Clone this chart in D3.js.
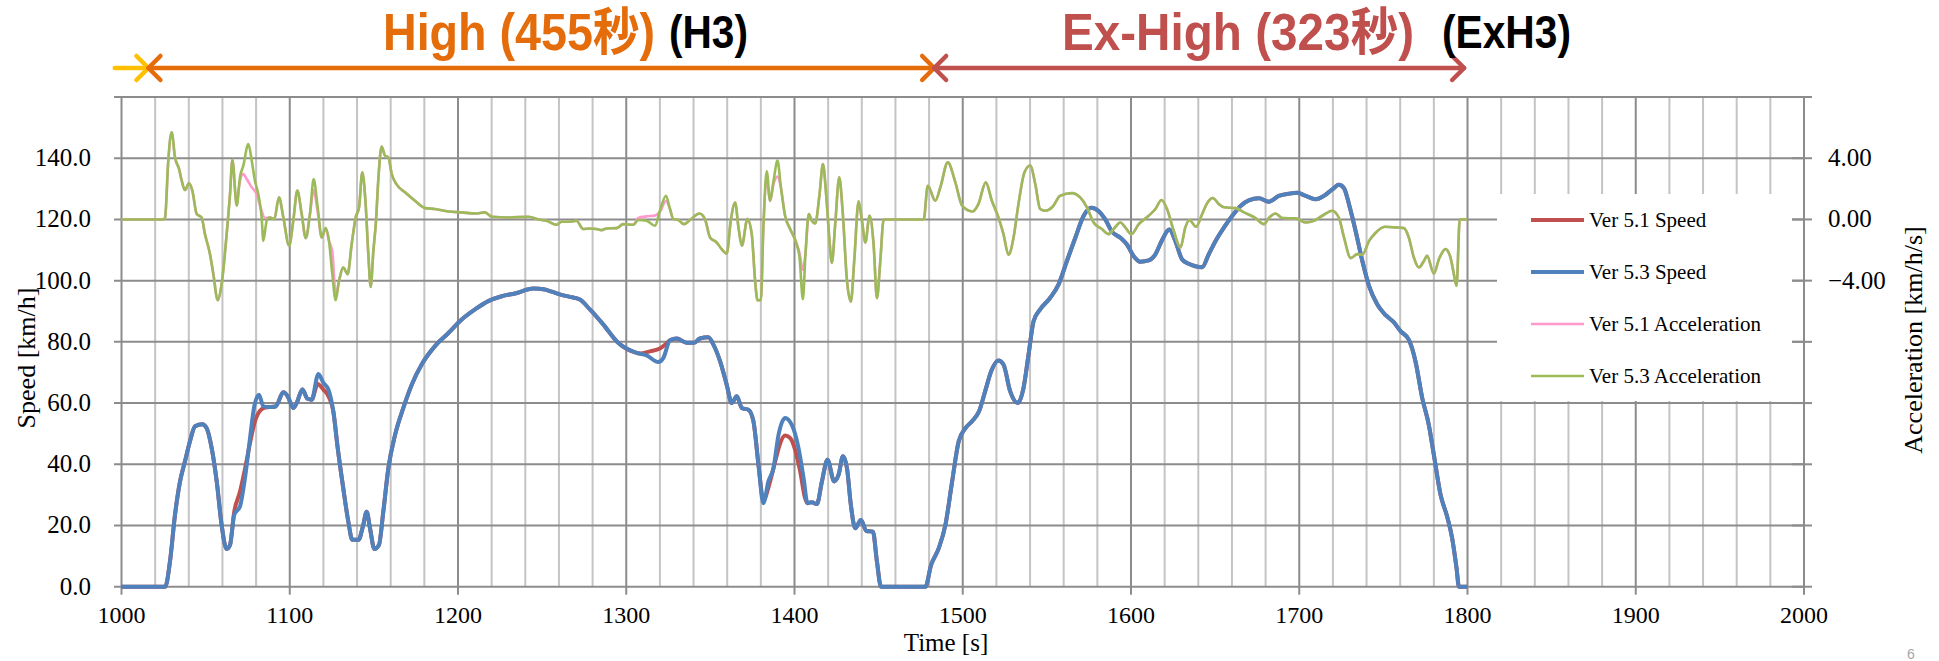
<!DOCTYPE html>
<html>
<head>
<meta charset="utf-8">
<script src="https://cdn.jsdelivr.net/npm/d3@7"></script>
<style>
  body { margin: 0; background: #fff; }
  svg { display: block; }
</style>
</head>
<body>
<div id="chart"></div>
<script>
// ---- data: [time s, value] ----
const ver53Speed = [
  [1000,0],[1026,0],[1028.8,8.2],[1031.8,23.5],[1034.8,34.4],[1037.7,40.9],[1040.7,47.5],[1043.7,52.4],
  [1048,53.1],[1050.6,51.8],[1053.6,45.3],[1056.6,34.4],[1059.5,20.2],[1062.5,12.3],[1064.5,13.6],[1067,23.5],
  [1070.4,26.2],[1073.4,35.5],[1076.4,48.6],[1078.9,58.9],[1081.7,62.7],[1084.3,58.9],[1087.3,58.7],[1091.6,58.9],
  [1096.2,63.5],[1098.8,62.2],[1102.1,58.4],[1104.1,60],[1107.5,64.4],[1110.6,61.4],[1113,61.1],[1117,69.5],
  [1120,66.6],[1123,64.4],[1125.9,57.3],[1128.5,45.3],[1131.8,32.2],[1134.8,21.3],[1137.2,15.3],[1140.8,15.3],
  [1143.7,20.2],[1145.7,24.5],[1147.7,19.1],[1150.3,12.3],[1153,13.6],[1155.6,24.5],[1158.6,38.7],[1162.6,49.6],
  [1167.5,58.4],[1172.5,66],[1178.4,72.6],[1186.3,78.6],[1194.3,82.9],[1202.2,87.3],[1210.1,90.6],[1218,93.3],
  [1226,94.9],[1233.9,95.8],[1244.8,97.4],[1251.7,97.1],[1254.6,96.6],[1260.5,95.5],[1266.5,94.7],[1272.4,93.8],
  [1278.4,90.6],[1286.3,85.7],[1295.2,79.7],[1306.2,76.4],[1312.1,75.6],[1319,73.4],[1322,74.7],[1326,80.5],
  [1330,81.1],[1335.9,79.7],[1340.3,79.7],[1343.8,81.1],[1348.8,81.5],[1351.8,79.1],[1355.8,73.6],[1359.7,66],
  [1362.7,60],[1365.7,62.2],[1368.7,58.4],[1372.6,57.8],[1375.6,54],[1378.6,39.8],[1381.5,27.3],[1384.5,34.4],
  [1387.5,38.7],[1390.5,49.6],[1394.4,55.1],[1398.4,52.9],[1402.4,45.3],[1405.4,35.5],[1407.7,27.3],[1410.3,27.6],
  [1413.3,27],[1416.3,34.4],[1419.6,41.5],[1423.6,34.4],[1426.2,36.6],[1428.8,42.6],[1431.2,38.7],[1433.5,26.7],
  [1436.1,19.1],[1439.5,21.8],[1442.7,18.2],[1446.6,18],[1449,8.2],[1451.4,0],[1477.8,0],[1481.2,7.1],
  [1485.7,12.5],[1489.7,20.2],[1493.7,34.4],[1497.6,47.5],[1501.6,51.8],[1505.4,54],[1509.7,57.3],[1513.3,63.8],
  [1516.9,70.4],[1521.2,73.9],[1524.2,72.6],[1528.2,63.8],[1532.7,60],[1536.1,64.9],[1539.1,75.8],[1542.1,86.7],
  [1546,90.6],[1552,94.4],[1556.9,98.7],[1561.9,106.4],[1566.9,114],[1571.8,121.1],[1576.4,123.8],[1580.8,122.7],
  [1584.7,120],[1588.7,116],[1593.7,114],[1597.6,111.8],[1601.6,108],[1605.6,106.2],[1610.5,106.6],[1614.5,108.6],
  [1618.5,113.3],[1622.8,116.7],[1626.4,112.9],[1630.4,106.9],[1634.3,105.5],[1638.3,104.7],[1642.3,104.4],[1646.2,108.6],
  [1650.2,112.9],[1655.2,117.3],[1660.1,121.1],[1665.1,124.4],[1670,126.2],[1676,126.9],[1681.9,125.8],[1687.9,127.7],
  [1693.8,128.4],[1698.8,128.7],[1703.8,127.7],[1709.7,126.6],[1714.7,127.7],[1719.6,129.8],[1723.6,131.3],[1726.6,130.2],
  [1729.6,124.9],[1733.5,116.2],[1737.5,106.4],[1741.5,98.2],[1746.4,92.2],[1751.4,88.7],[1756,86.5],[1760.2,83.5],
  [1765.1,80.7],[1769.1,73.6],[1773.1,61.6],[1777,52.9],[1780,43.1],[1784,30],[1787.9,22.9],[1790.9,15.8],
  [1793.5,6],[1794.9,0],[1799.8,0]
];

const ver51Speed = [
  [1000,0],[1026,0],[1028.8,8.2],[1031.8,23.5],[1034.8,34.4],[1037.7,40.9],[1040.7,47.5],[1043.7,52.4],
  [1048,53.1],[1050.6,51.8],[1053.6,45.3],[1056.6,34.4],[1059.5,20.2],[1062.5,12.3],[1064.5,13.6],[1067,24.5],
  [1070.4,31],[1073.4,38.5],[1076.4,47],[1079.3,54],[1082.3,57.5],[1085.3,58.5],[1091.6,58.9],
  [1096.2,63.5],[1098.8,62.2],[1102.1,58.4],[1104.1,60],[1107.5,64.4],[1110.6,61.4],[1113,61.1],[1116.6,66.2],
  [1120,64.4],[1123,62.2],[1125.9,57.3],[1128.5,45.3],[1131.8,32.2],[1134.8,21.3],[1137.2,15.3],[1140.8,15.3],
  [1143.7,20.2],[1145.7,24.5],[1147.7,19.1],[1150.3,12.3],[1153,13.6],[1155.6,24.5],[1158.6,38.7],[1162.6,49.6],
  [1167.5,58.4],[1172.5,66],[1178.4,72.6],[1186.3,78.6],[1194.3,82.9],[1202.2,87.3],[1210.1,90.6],[1218,93.3],
  [1226,94.9],[1233.9,95.8],[1244.8,97.4],[1251.7,97.1],[1254.6,96.6],[1260.5,95.5],[1266.5,94.7],[1272.4,93.8],
  [1278.4,90.6],[1286.3,85.7],[1295.2,79.7],[1306.2,76.4],[1308.1,76.2],[1314.1,76.9],[1320,77.8],[1323.6,79.3],[1326,80.5],
  [1330,81.1],[1335.9,79.7],[1340.3,79.7],[1343.8,81.1],[1348.8,81.5],[1351.8,79.1],[1355.8,73.6],[1359.7,66],
  [1362.7,60],[1365.7,62.2],[1368.7,58.4],[1372.6,57.8],[1375.6,54],[1378.6,39.8],[1381.5,28.4],[1385.5,34.4],
  [1388.5,40.9],[1391.5,46.9],[1394.4,49.4],[1397.4,48.6],[1400.4,44.7],[1403.4,37.6],[1406.3,28.9],[1407.7,27.3],[1410.3,27.6],
  [1413.3,27],[1416.3,34.4],[1419.6,41.5],[1423.6,34.4],[1426.2,36.6],[1428.8,42.6],[1431.2,38.7],[1433.5,26.7],
  [1436.1,19.1],[1439.5,21.8],[1442.7,18.2],[1446.6,18],[1449,8.2],[1451.4,0],[1477.8,0],[1481.2,7.1],
  [1485.7,12.5],[1489.7,20.2],[1493.7,34.4],[1497.6,47.5],[1501.6,51.8],[1505.4,54],[1509.7,57.3],[1513.3,63.8],
  [1516.9,70.4],[1521.2,73.9],[1524.2,72.6],[1528.2,63.8],[1532.7,60],[1536.1,64.9],[1539.1,75.8],[1542.1,86.7],
  [1546,90.6],[1552,94.4],[1556.9,98.7],[1561.9,106.4],[1566.9,114],[1571.8,121.1],[1576.4,123.8],[1580.8,122.7],
  [1584.7,120],[1588.7,116],[1593.7,114],[1597.6,111.8],[1601.6,108],[1605.6,106.2],[1610.5,106.6],[1614.5,108.6],
  [1618.5,113.3],[1622.8,116.7],[1626.4,112.9],[1630.4,106.9],[1634.3,105.5],[1638.3,104.7],[1642.3,104.4],[1646.2,108.6],
  [1650.2,112.9],[1655.2,117.3],[1660.1,121.1],[1665.1,124.4],[1670,126.2],[1676,126.9],[1681.9,125.8],[1687.9,127.7],
  [1693.8,128.4],[1698.8,128.7],[1703.8,127.7],[1709.7,126.6],[1714.7,127.7],[1719.6,129.8],[1723.6,131.3],[1726.6,130.2],
  [1729.6,124.9],[1733.5,116.2],[1737.5,106.4],[1741.5,98.2],[1746.4,92.2],[1751.4,88.7],[1756,86.5],[1760.2,83.5],
  [1765.1,80.7],[1769.1,73.6],[1773.1,61.6],[1777,52.9],[1780,43.1],[1784,30],[1787.9,22.9],[1790.9,15.8],
  [1793.5,6],[1794.9,0],[1799.8,0]
];

const ver53Accel = [
  [1000,0],[1024.9,0],[1025.9,0.13],[1027.8,3.84],[1029.8,5.7],[1031.8,4.06],[1034.2,3.3],[1035.8,2.53],
  [1037.7,1.92],[1040.1,2.36],[1042.1,1.88],[1044.7,0.35],[1047.6,0.13],[1049.6,-0.96],[1052.6,-2.27],[1054.6,-3.58],
  [1057.2,-5.28],[1059.5,-4.24],[1062.5,-0.96],[1064.5,1.66],[1065.9,3.89],[1068.5,0.9],[1070.4,2.75],[1072.4,3.52],
  [1075.4,4.93],[1077.4,3.84],[1079.3,2.53],[1081.3,1.66],[1083.3,0.13],[1084.3,-1.4],[1086.3,-0.09],[1088.2,0.13],
  [1090.8,0.02],[1093.6,1.44],[1096.2,0.13],[1099.6,-1.72],[1102.1,-0.09],[1104.5,1.88],[1107.1,0.35],[1109.5,-1.22],
  [1112,0.35],[1114.2,2.64],[1116.6,0.79],[1119,-1.18],[1121.3,-0.57],[1123.3,-1.4],[1125.3,-3.58],[1127.3,-5.28],
  [1129.3,-4.02],[1131.8,-3.14],[1134.4,-3.58],[1136.8,-1.62],[1139.2,0.13],[1141.2,0.79],[1143.1,3.08],[1145.1,1.0],
  [1146.7,-2.27],[1148.1,-4.41],[1149.7,-2.05],[1151.2,-0.2],[1152.6,2.53],[1154.6,4.76],[1156.6,4.17],[1158.6,4.06],
  [1160.6,2.97],[1163.5,2.29],[1168.5,1.77],[1174.4,1.22],[1180.4,0.74],[1186.3,0.68],[1194.3,0.52],[1202.2,0.46],
  [1210.1,0.39],[1216.1,0.46],[1220.1,0.17],[1230,0.13],[1241.9,0.17],[1247.8,0],[1252.6,-0.09],[1258.5,-0.35],
  [1261.5,-0.15],[1266.5,-0.15],[1270.4,-0.09],[1274.4,-0.63],[1278.4,-0.59],[1282.3,-0.63],[1285.3,-0.7],[1288.3,-0.59],
  [1294.2,-0.57],[1298.2,-0.31],[1304.2,-0.35],[1307.1,-0.04],[1312.1,-0.09],[1317.1,-0.41],[1320,0.57],[1323.6,1.55],
  [1326,0.68],[1328,0.02],[1331,-0.04],[1334.3,-0.31],[1337.9,-0.04],[1343.5,0.39],[1346.8,0.02],[1349.8,-1.18],
  [1353.8,-1.51],[1356.7,-1.94],[1359.7,-2.23],[1362.1,-0.09],[1364.7,1.11],[1366.7,-0.52],[1368.7,-1.72],[1372,0.02],
  [1374.6,-0.96],[1376.6,-4.02],[1378,-5.28],[1380,-5.28],[1381.5,-0.52],[1383.5,3.14],[1385.5,1.22],[1387.5,2.49],
  [1389.9,3.84],[1391.9,2.1],[1394.4,0.24],[1397.4,-0.63],[1401,-1.51],[1403,-2.49],[1405,-5.22],[1406.5,-2.27],
  [1408.5,0.35],[1410.3,-0.09],[1412.3,-0.26],[1414.9,1.66],[1416.9,3.62],[1418.8,1.66],[1420.8,-1.4],[1422.2,-2.84],
  [1424.2,-0.31],[1426.6,2.75],[1428.6,0.55],[1431.2,-4.02],[1433.5,-5.37],[1435.5,-2.71],[1438.1,1.18],[1440.1,-0.09],
  [1442.1,-1.51],[1444.6,0.24],[1447,-1.62],[1449,-5.15],[1451,-2.71],[1453,0],[1476.8,0],[1479.2,2.2],
  [1483.7,1.22],[1486.7,2.1],[1491.1,3.73],[1495.6,2.42],[1499.6,0.9],[1505.8,0.52],[1509.3,1.0],[1513.7,2.42],
  [1517.3,1.22],[1521.2,0.13],[1524.2,-0.96],[1527.2,-2.31],[1530.2,-1.18],[1533.1,1.0],[1536.7,3.08],[1540.1,3.52],
  [1543.1,2.31],[1546,0.68],[1549,0.57],[1553.4,0.83],[1557.9,1.55],[1564.9,1.72],[1569.8,1.44],[1573.8,0.79],
  [1577.8,-0.2],[1582.7,-0.63],[1586.7,-0.96],[1589.7,-0.63],[1593.7,-0.2],[1596.6,-0.52],[1600.2,-0.96],[1604.6,-0.31],
  [1610.5,0.24],[1614.5,0.68],[1618.1,1.27],[1621.4,0.68],[1625.4,-0.74],[1629.4,-1.83],[1632.3,-0.52],[1634.7,-0.04],
  [1638.7,-0.48],[1642.3,0.35],[1645.2,1.05],[1648.6,1.4],[1652.2,1.0],[1655.2,0.79],[1662.1,0.74],[1667.1,0.46],
  [1674,0.09],[1679,-0.31],[1681.9,0.09],[1685.9,0.39],[1689.9,0.09],[1697.8,0.07],[1703.8,-0.2],[1708.7,-0.09],
  [1713.7,0.24],[1719.6,0.57],[1723.6,0.09],[1726.6,-1.18],[1730.6,-2.53],[1734.5,-2.27],[1737.5,-2.31],[1741.5,-1.4],
  [1745,-0.92],[1751,-0.48],[1757,-0.52],[1762.2,-0.57],[1765.1,-1.18],[1768.1,-2.49],[1771.1,-3.14],[1774.1,-2.71],
  [1776,-2.38],[1780,-3.54],[1783,-2.6],[1786.9,-1.94],[1789.9,-2.49],[1791.9,-3.58],[1793.5,-4.34],[1795.4,0],
  [1799.8,0]
];

const ver51Accel = [
  [1000,0],[1024.9,0],[1025.9,0.13],[1027.8,3.84],[1029.8,5.7],[1031.8,4.06],[1034.2,3.3],[1035.8,2.53],
  [1037.7,1.92],[1040.1,2.36],[1042.1,1.88],[1044.7,0.35],[1047.6,0.13],[1049.6,-0.96],[1052.6,-2.27],[1054.6,-3.58],
  [1057.2,-5.28],[1059.5,-4.24],[1062.5,-0.96],[1064.5,1.66],[1065.9,3.89],[1068.5,0.9],[1069.5,1.88],[1072.4,2.97],
  [1074.4,2.64],[1077.4,2.1],[1080.3,1.66],[1082.9,0.68],[1085.3,0.09],[1088.2,0.13],
  [1090.8,0.02],[1093.6,1.44],[1096.2,0.13],[1099.6,-1.72],[1102.1,-0.09],[1104.5,1.88],[1107.1,0.35],[1109.5,-1.22],
  [1112,0.35],[1114.2,1.9],[1116.6,0.5],[1119,-1.18],[1121.3,-0.57],[1123.3,-1.4],[1125.3,-2.1],[1127.3,-4.9],
  [1129.3,-4.02],[1131.8,-3.14],[1134.4,-3.58],[1136.8,-1.62],[1139.2,0.13],[1141.2,0.79],[1143.1,3.08],[1145.1,1.0],
  [1146.7,-2.27],[1148.1,-4.41],[1149.7,-2.05],[1151.2,-0.2],[1152.6,2.53],[1154.6,4.76],[1156.6,4.17],[1158.6,4.06],
  [1160.6,2.97],[1163.5,2.29],[1168.5,1.77],[1174.4,1.22],[1180.4,0.74],[1186.3,0.68],[1194.3,0.52],[1202.2,0.46],
  [1210.1,0.39],[1216.1,0.46],[1220.1,0.17],[1230,0.13],[1241.9,0.17],[1247.8,0],[1252.6,-0.09],[1258.5,-0.35],
  [1261.5,-0.15],[1266.5,-0.15],[1270.4,-0.09],[1274.4,-0.63],[1278.4,-0.59],[1282.3,-0.63],[1285.3,-0.7],[1288.3,-0.59],
  [1294.2,-0.57],[1298.2,-0.31],[1304.2,-0.35],[1307.1,0.1],[1312.1,0.2],[1317.1,0.25],[1320,0.5],[1323.6,1.2],
  [1326,0.68],[1328,0.02],[1331,-0.04],[1334.3,-0.31],[1337.9,-0.04],[1343.5,0.39],[1346.8,0.02],[1349.8,-1.18],
  [1353.8,-1.51],[1356.7,-1.94],[1359.7,-2.23],[1362.1,-0.09],[1364.7,1.11],[1366.7,-0.52],[1368.7,-1.72],[1372,0.02],
  [1374.6,-0.96],[1376.6,-4.02],[1378,-5.28],[1380,-5.28],[1381.5,-0.52],[1383.5,2.5],[1385.5,1.2],[1387.5,2.3],
  [1389.9,2.8],[1391.9,2.1],[1394.4,0.24],[1397.4,-0.63],[1401,-1.51],[1403,-2.2],[1405,-3.3],[1406.5,-2.27],
  [1408.5,0.35],[1410.3,-0.09],[1412.3,-0.26],[1414.9,1.66],[1416.9,3.62],[1418.8,1.66],[1420.8,-1.4],[1422.2,-2.84],
  [1424.2,-0.31],[1426.6,2.75],[1428.6,0.55],[1431.2,-4.02],[1433.5,-5.37],[1435.5,-2.71],[1438.1,1.18],[1440.1,-0.09],
  [1442.1,-1.51],[1444.6,0.24],[1447,-1.62],[1449,-5.15],[1451,-2.71],[1453,0],[1476.8,0],[1479.2,2.2],
  [1483.7,1.22],[1486.7,2.1],[1491.1,3.73],[1495.6,2.42],[1499.6,0.9],[1505.8,0.52],[1509.3,1.0],[1513.7,2.42],
  [1517.3,1.22],[1521.2,0.13],[1524.2,-0.96],[1527.2,-2.31],[1530.2,-1.18],[1533.1,1.0],[1536.7,3.08],[1540.1,3.52],
  [1543.1,2.31],[1546,0.68],[1549,0.57],[1553.4,0.83],[1557.9,1.55],[1564.9,1.72],[1569.8,1.44],[1573.8,0.79],
  [1577.8,-0.2],[1582.7,-0.63],[1586.7,-0.96],[1589.7,-0.63],[1593.7,-0.2],[1596.6,-0.52],[1600.2,-0.96],[1604.6,-0.31],
  [1610.5,0.24],[1614.5,0.68],[1618.1,1.27],[1621.4,0.68],[1625.4,-0.74],[1629.4,-1.83],[1632.3,-0.52],[1634.7,-0.04],
  [1638.7,-0.48],[1642.3,0.35],[1645.2,1.05],[1648.6,1.4],[1652.2,1.0],[1655.2,0.79],[1662.1,0.74],[1667.1,0.46],
  [1674,0.09],[1679,-0.31],[1681.9,0.09],[1685.9,0.39],[1689.9,0.09],[1697.8,0.07],[1703.8,-0.2],[1708.7,-0.09],
  [1713.7,0.24],[1719.6,0.57],[1723.6,0.09],[1726.6,-1.18],[1730.6,-2.53],[1734.5,-2.27],[1737.5,-2.31],[1741.5,-1.4],
  [1745,-0.92],[1751,-0.48],[1757,-0.52],[1762.2,-0.57],[1765.1,-1.18],[1768.1,-2.49],[1771.1,-3.14],[1774.1,-2.71],
  [1776,-2.38],[1780,-3.54],[1783,-2.6],[1786.9,-1.94],[1789.9,-2.49],[1791.9,-3.58],[1793.5,-4.34],[1795.4,0],
  [1799.8,0]
];

const seriesNames = ["Ver 5.1 Speed", "Ver 5.3 Speed", "Ver 5.1 Acceleration", "Ver 5.3 Acceleration"];
const speedGrid = [0, 20, 40, 60, 80, 100, 120, 140, 160];
const speedTickLabels = [0, 20, 40, 60, 80, 100, 120, 140];
const accelTickLabels = [4, 0, -4];
const timeTicks = [1000, 1100, 1200, 1300, 1400, 1500, 1600, 1700, 1800, 1900, 2000];
// phase arrows (seconds): start, High start, Ex-High start, end
const phaseBreaks = [996, 1016, 1483, 1798];

const W = 1939, H = 661;
const plotL = 121.5, plotR = 1804, plotT = 97, plotB = 586.7;

const x = d3.scaleLinear().domain([1000, 2000]).range([plotL, plotR]);
const y = d3.scaleLinear().domain([0, 160]).range([plotB, plotT]);
const yA = d3.scaleLinear().domain([-24, 8]).range([plotB, plotT]);

const svg = d3.select("#chart").append("svg")
    .attr("width", W).attr("height", H)
    .style("background", "#fff");

const serif = "'Liberation Serif', 'Times New Roman', serif";

// gridlines
const minorT = d3.range(1000, 2001, 20);
svg.append("g").selectAll("line")
    .data(minorT)
    .enter().append("line")
    .attr("x1", d => x(d)).attr("x2", d => x(d))
    .attr("y1", plotT).attr("y2", plotB)
    .attr("stroke", d => d % 100 === 0 ? "#8c8c8c" : "#c4c4c4")
    .attr("stroke-width", 2);

svg.append("g").selectAll("line")
    .data(speedGrid)
    .enter().append("line")
    .attr("x1", plotL - 7.5).attr("x2", plotR)
    .attr("y1", d => y(d)).attr("y2", d => y(d))
    .attr("stroke", "#8c8c8c")
    .attr("stroke-width", 2);

// legend box sits over the grid
const legX = 1497, legY = 194, legW = 295, legH = 207;
svg.append("rect")
    .attr("x", legX).attr("y", legY)
    .attr("width", legW).attr("height", legH)
    .attr("fill", "#fff");

// right axis ticks (cross the axis)
svg.append("g").selectAll("line")
    .data(speedGrid)
    .enter().append("line")
    .attr("x1", plotR - 12).attr("x2", plotR + 8)
    .attr("y1", d => y(d)).attr("y2", d => y(d))
    .attr("stroke", "#8c8c8c")
    .attr("stroke-width", 2);

// x major ticks below the axis
svg.append("g").selectAll("line")
    .data(timeTicks)
    .enter().append("line")
    .attr("x1", d => x(d)).attr("x2", d => x(d))
    .attr("y1", plotB).attr("y2", plotB + 8)
    .attr("stroke", "#8c8c8c")
    .attr("stroke-width", 2);

// tick labels
svg.append("g").selectAll("text")
    .data(speedTickLabels)
    .enter().append("text")
    .attr("x", 91).attr("y", d => y(d) + 8)
    .attr("text-anchor", "end")
    .attr("font-family", serif).attr("font-size", 25)
    .text(d => d3.format(".1f")(d));

svg.append("g").selectAll("text")
    .data(timeTicks)
    .enter().append("text")
    .attr("x", d => x(d)).attr("y", 623)
    .attr("text-anchor", "middle")
    .attr("font-family", serif).attr("font-size", 24)
    .text(d => d);

svg.append("g").selectAll("text")
    .data(accelTickLabels)
    .enter().append("text")
    .attr("x", 1828).attr("y", d => yA(d) + 8)
    .attr("font-family", serif).attr("font-size", 25)
    .text(d => d3.format(".2f")(d));

// axis titles
svg.append("text")
    .attr("x", 946).attr("y", 651)
    .attr("text-anchor", "middle")
    .attr("font-family", serif).attr("font-size", 25)
    .text("Time [s]");

svg.append("text")
    .attr("transform", "translate(35,358) rotate(-90)")
    .attr("text-anchor", "middle")
    .attr("font-family", serif).attr("font-size", 26)
    .text("Speed [km/h]");

svg.append("text")
    .attr("transform", "translate(1922,340) rotate(-90)")
    .attr("text-anchor", "middle")
    .attr("font-family", serif).attr("font-size", 26)
    .text("Acceleration [km/h/s]");

// series
const speedLine = d3.line()
    .x(d => x(d[0])).y(d => y(d[1]))
    .curve(d3.curveMonotoneX);
const accelLine = d3.line()
    .x(d => x(d[0])).y(d => yA(d[1]))
    .curve(d3.curveMonotoneX);

const colours = ["#C0504D", "#4F81BD", "#FF99CC", "#9BBB59"];
const widths = [4, 4, 2.6, 2.6];

svg.append("path").datum(ver51Speed)
    .attr("d", speedLine).attr("fill", "none")
    .attr("stroke", colours[0]).attr("stroke-width", widths[0])
    .attr("stroke-linejoin", "round");
svg.append("path").datum(ver53Speed)
    .attr("d", speedLine).attr("fill", "none")
    .attr("stroke", colours[1]).attr("stroke-width", widths[1])
    .attr("stroke-linejoin", "round");
svg.append("path").datum(ver51Accel)
    .attr("d", accelLine).attr("fill", "none")
    .attr("stroke", colours[2]).attr("stroke-width", widths[2])
    .attr("stroke-linejoin", "round");
svg.append("path").datum(ver53Accel)
    .attr("d", accelLine).attr("fill", "none")
    .attr("stroke", colours[3]).attr("stroke-width", widths[3])
    .attr("stroke-linejoin", "round");

// legend entries
const legend = svg.append("g").attr("class", "legend");
seriesNames.forEach((name, i) => {
    const ly = 220 + i * 52;
    legend.append("line")
        .attr("x1", 1531).attr("x2", 1584)
        .attr("y1", ly).attr("y2", ly)
        .attr("stroke", colours[i])
        .attr("stroke-width", widths[i]);
    legend.append("text")
        .attr("x", 1589).attr("y", ly + 7)
        .attr("font-family", serif).attr("font-size", 21)
        .text(name);
});

// phase arrows on top
const arrowY = 68;
const arrows = [
    { from: phaseBreaks[0], to: phaseBreaks[1], colour: "#FFC000", heads: [false, true] },
    { from: phaseBreaks[1], to: phaseBreaks[2], colour: "#E46C0A", heads: [true, true] },
    { from: phaseBreaks[2], to: phaseBreaks[3], colour: "#C0504D", heads: [true, true] }
];
arrows.forEach(a => {
    const g = svg.append("g")
        .attr("stroke", a.colour).attr("stroke-width", 4.5)
        .attr("fill", "none").attr("stroke-linejoin", "round")
        .attr("stroke-linecap", "round");
    g.append("line")
        .attr("x1", x(a.from)).attr("x2", x(a.to))
        .attr("y1", arrowY).attr("y2", arrowY);
    if (a.heads[0]) {
        const hx = x(a.from);
        g.append("path").attr("d", `M${hx + 12},${arrowY - 12}L${hx},${arrowY}L${hx + 12},${arrowY + 12}`);
    }
    if (a.heads[1]) {
        const hx = x(a.to);
        g.append("path").attr("d", `M${hx - 12},${arrowY - 12}L${hx},${arrowY}L${hx - 12},${arrowY + 12}`);
    }
});

// phase titles: narrow-looking bold text, stretched vertically
const sans = "'Liberation Sans', Arial, 'Noto Sans CJK JP', sans-serif";
const titles = [
    { t: "High (455秒)", x: 383, y: 50, size: 46, sy: 1.12, len: 272, c: "#E46C0A" },
    { t: "(H3)", x: 669, y: 48, size: 40, sy: 1.17, len: 79, c: "#000" },
    { t: "Ex-High (323秒)", x: 1062, y: 50, size: 47, sy: 1.1, len: 352, c: "#C0504D" },
    { t: "(ExH3)", x: 1442, y: 48, size: 40, sy: 1.17, len: 129, c: "#000" }
];
titles.forEach(d => {
    svg.append("text")
        .attr("transform", `translate(${d.x},${d.y}) scale(1,${d.sy})`)
        .attr("font-family", sans).attr("font-weight", "bold")
        .attr("font-size", d.size)
        .attr("textLength", d.len).attr("lengthAdjust", "spacingAndGlyphs")
        .attr("fill", d.c)
        .text(d.t);
});

// slide number in the bottom corner
svg.append("text")
    .attr("x", 1907).attr("y", 659)
    .attr("font-family", sans).attr("font-size", 14)
    .attr("fill", "#a6a6a6")
    .text("6");
</script>
</body>
</html>
